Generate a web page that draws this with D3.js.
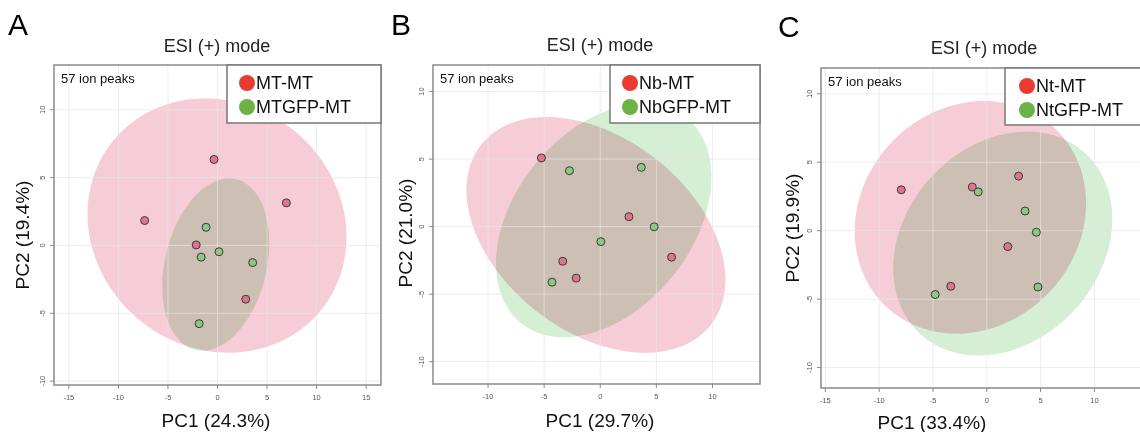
<!DOCTYPE html>
<html>
<head>
<meta charset="utf-8">
<script src="https://cdn.jsdelivr.net/npm/d3@7"></script>
<style>
  html, body { margin: 0; padding: 0; background: #fff; }
  svg { display: block; font-family: 'Liberation Sans', Arial, sans-serif; }
</style>
</head>
<body>
<svg id="chart" width="1140" height="432"></svg>
<script>
// ── Data ─────────────────────────────────────────────────────────────────────
const panelLetters = ['A', 'B', 'C'];
const panelTitles  = ['ESI (+) mode', 'ESI (+) mode', 'ESI (+) mode'];
const pc1Labels    = ['PC1 (24.3%)', 'PC1 (29.7%)', 'PC1 (33.4%)'];
const pc2Labels    = ['PC2 (19.4%)', 'PC2 (21.0%)', 'PC2 (19.9%)'];
const peakNote     = '57 ion peaks';
const groupNames   = [
  ['MT-MT', 'MTGFP-MT'],
  ['Nb-MT', 'NbGFP-MT'],
  ['Nt-MT', 'NtGFP-MT'],
];

// PCA scores [PC1, PC2]
const redA   = [[-7.3, 1.8], [-0.3, 6.3], [7.0, 3.1], [-2.1, 0.0], [2.9, -4.0]];
const greenA = [[-1.1, 1.3], [-1.6, -0.9], [0.2, -0.5], [3.6, -1.3], [-1.8, -5.8]];
const redB   = [[-5.2, 5.05], [2.6, 0.7], [6.4, -2.3], [-3.3, -2.6], [-2.1, -3.85]];
const greenB = [[-2.7, 4.1], [3.7, 4.35], [4.85, -0.05], [0.1, -1.15], [-4.25, -4.15]];
const redC   = [[-7.9, 2.95], [-1.3, 3.15], [3.0, 3.95], [2.0, -1.2], [-3.3, -4.1]];
const greenC = [[-0.75, 2.8], [3.6, 1.4], [4.65, -0.15], [4.8, -4.15], [-4.75, -4.7]];

// confidence ellipses: centre, half-extent on each axis, correlation
const ellipseA = [
  { cx: 0.0,   cy: 1.43,  rx: 13.07, ry: 9.37, r: -0.09 },
  { cx: -0.12, cy: -1.45, rx: 5.4,   ry: 6.35, r: 0.25 },
];
const ellipseB = [
  { cx: -0.34, cy: -0.65, rx: 11.54, ry: 8.73, r: -0.38 },
  { cx: 0.35,  cy: 0.42,  rx: 9.6,   ry: 8.65, r: 0.37 },
];
const ellipseC = [
  { cx: -1.48, cy: 0.94,  rx: 10.75, ry: 8.5,  r: 0.12 },
  { cx: 1.53,  cy: -0.98, rx: 10.18, ry: 8.18, r: 0.22 },
];

const xTicks = [[-15, -10, -5, 0, 5, 10, 15], [-10, -5, 0, 5, 10], [-15, -10, -5, 0, 5, 10]];
const yTicks = [-10, -5, 0, 5, 10];

// ── Layout ───────────────────────────────────────────────────────────────────
const panels = [
  { red: redA, green: greenA, ell: ellipseA,
    frame: { x0: 54, x1: 381, y0: 65, y1: 385 }, xDom: [-16.45, 16.55], yDom: [-10.32, 13.26],
    letter: [8, 35], title: [217, 52], pc1: [216, 427], pc2: [22, 235],
    legend: { x0: 227, x1: 381, y0: 65, y1: 123, dot: 247, rows: [83, 107] } },
  { red: redB, green: greenB, ell: ellipseB,
    frame: { x0: 433, x1: 760, y0: 65, y1: 384 }, xDom: [-14.86, 14.28], yDom: [-11.69, 11.93],
    letter: [391, 35], title: [600, 51], pc1: [600, 427], pc2: [405, 233],
    legend: { x0: 610, x1: 760, y0: 65, y1: 123, dot: 630, rows: [83, 107] } },
  { red: redC, green: greenC, ell: ellipseC,
    frame: { x0: 821, x1: 1146, y0: 68, y1: 388 }, xDom: [-15.36, 14.84], yDom: [-11.53, 11.85],
    letter: [778, 37], title: [984, 54], pc1: [932, 429], pc2: [792, 228],
    legend: { x0: 1005, x1: 1146, y0: 68, y1: 125, dot: 1027, rows: [86, 110] } },
];

const ELL_FILL  = ['#f6ccd7', '#d5efd4'];
const PT_FILL   = ['#e0748c', '#8cc785'];
const LEG_DOT   = ['#ea3b33', '#6cb244'];

const svg = d3.select('#chart');

panels.forEach((p, i) => {
  const f = p.frame;
  const x = d3.scaleLinear().domain(p.xDom).range([f.x0, f.x1]);
  const y = d3.scaleLinear().domain(p.yDom).range([f.y1, f.y0]);

  const g = svg.append('g');

  // panel letter + title
  g.append('text').attr('x', p.letter[0]).attr('y', p.letter[1])
    .attr('font-size', 30).attr('fill', '#000').text(panelLetters[i]);
  g.append('text').attr('x', p.title[0]).attr('y', p.title[1])
    .attr('text-anchor', 'middle').attr('font-size', 18).attr('fill', '#222').text(panelTitles[i]);

  // clip for the plot area
  const clipId = `clip-${i}`;
  svg.append('clipPath').attr('id', clipId).append('rect')
    .attr('x', f.x0).attr('y', f.y0).attr('width', f.x1 - f.x0).attr('height', f.y1 - f.y0);

  const plot = g.append('g').attr('clip-path', `url(#${clipId})`).style('isolation', 'isolate');

  // ellipses (multiply blend gives the tan overlap)
  const ellPath = e => {
    const pts = d3.range(0, 361, 3).map(deg => {
      const t = deg * Math.PI / 180;
      const dx = e.rx * Math.cos(t);
      const dy = e.ry * (e.r * Math.cos(t) + Math.sqrt(1 - e.r * e.r) * Math.sin(t));
      return [x(e.cx + dx), y(e.cy + dy)];
    });
    return d3.line().curve(d3.curveLinearClosed)(pts);
  };
  plot.selectAll('path.ell').data(p.ell).join('path')
    .attr('class', 'ell')
    .attr('d', ellPath)
    .attr('fill', (d, k) => ELL_FILL[k])
    .style('mix-blend-mode', 'multiply');

  // grid on top, light
  const grid = plot.append('g').attr('stroke', '#e6e6e6').attr('stroke-opacity', 0.7).attr('stroke-width', 1);
  grid.selectAll('line.vx').data(xTicks[i]).join('line')
    .attr('x1', d => x(d) + 0.5).attr('x2', d => x(d) + 0.5)
    .attr('y1', f.y0).attr('y2', f.y1);
  grid.selectAll('line.hy').data(yTicks).join('line')
    .attr('y1', d => y(d) + 0.5).attr('y2', d => y(d) + 0.5)
    .attr('x1', f.x0).attr('x2', f.x1);

  // points
  [p.red, p.green].forEach((pts, k) => {
    plot.append('g').selectAll('circle').data(pts).join('circle')
      .attr('cx', d => x(d[0])).attr('cy', d => y(d[1]))
      .attr('r', 4).attr('fill', PT_FILL[k])
      .attr('stroke', '#3a3a3a').attr('stroke-width', 1);
  });

  // frame
  g.append('rect').attr('x', f.x0).attr('y', f.y0)
    .attr('width', f.x1 - f.x0).attr('height', f.y1 - f.y0)
    .attr('fill', 'none').attr('stroke', '#8a8a8a').attr('stroke-width', 1.5);

  // axes (plain hyphen minus like the original)
  const fmt = d => String(d);
  const xAxis = d3.axisBottom(x).tickValues(xTicks[i]).tickFormat(fmt).tickSize(4).tickPadding(6);
  g.append('g').attr('transform', `translate(0,${f.y1})`).call(xAxis)
    .call(a => a.select('.domain').remove())
    .call(a => a.selectAll('line').attr('stroke', '#888'))
    .call(a => a.selectAll('text').attr('font-size', 7.5).attr('fill', '#555')
      .attr('font-family', 'Liberation Sans, Arial, sans-serif'));

  const yAxis = d3.axisLeft(y).tickValues(yTicks).tickFormat(fmt).tickSize(4).tickPadding(0);
  g.append('g').attr('transform', `translate(${f.x0},0)`).call(yAxis)
    .call(a => a.select('.domain').remove())
    .call(a => a.selectAll('line').attr('stroke', '#888'))
    .call(a => a.selectAll('text')
      .attr('font-size', 7.5).attr('fill', '#555')
      .attr('font-family', 'Liberation Sans, Arial, sans-serif')
      .attr('text-anchor', 'middle').attr('dy', null).attr('x', null)
      .attr('transform', 'translate(-12,0) rotate(-90)')
      .attr('dominant-baseline', 'central'));

  // note
  g.append('text').attr('x', f.x0 + 7).attr('y', f.y0 + 18)
    .attr('font-size', 13).attr('fill', '#111').text(peakNote);

  // legend
  const L = p.legend;
  g.append('rect').attr('x', L.x0).attr('y', L.y0)
    .attr('width', L.x1 - L.x0).attr('height', L.y1 - L.y0)
    .attr('fill', '#fff').attr('stroke', '#777').attr('stroke-width', 1.5);
  groupNames[i].forEach((name, k) => {
    g.append('circle').attr('cx', L.dot).attr('cy', L.rows[k]).attr('r', 8).attr('fill', LEG_DOT[k]);
    g.append('text').attr('x', L.dot + 9).attr('y', L.rows[k])
      .attr('dominant-baseline', 'central').attr('font-size', 18).attr('fill', '#111')
      .text(name);
  });

  // axis titles
  g.append('text').attr('x', p.pc1[0]).attr('y', p.pc1[1])
    .attr('text-anchor', 'middle').attr('font-size', 19).attr('fill', '#111').text(pc1Labels[i]);
  g.append('text')
    .attr('transform', `translate(${p.pc2[0]},${p.pc2[1]}) rotate(-90)`)
    .attr('text-anchor', 'middle').attr('dominant-baseline', 'central')
    .attr('font-size', 19).attr('fill', '#111').text(pc2Labels[i]);
});
</script>
</body>
</html>
